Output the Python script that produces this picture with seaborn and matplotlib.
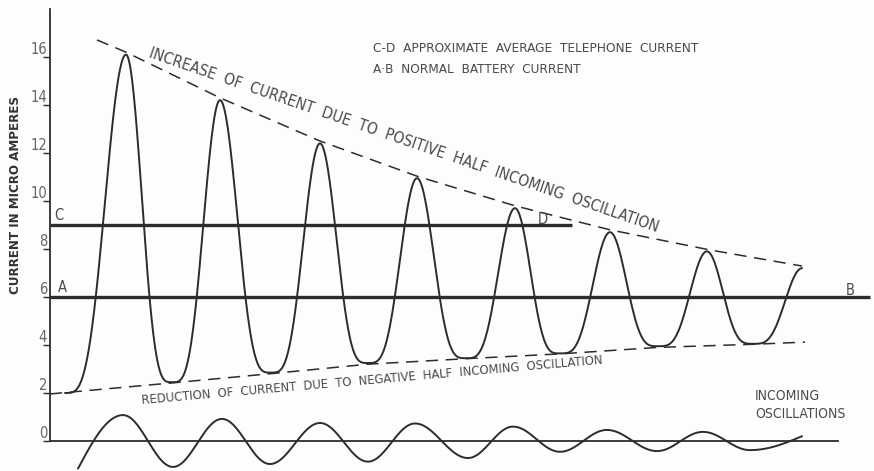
import numpy as np
import pandas as pd
import matplotlib
matplotlib.use("Agg")
import matplotlib.pyplot as plt
import seaborn as sns

# ---- data -------------------------------------------------------------
# Telephone current (micro-amperes): successive extremes, time in cycles
current_t = [0.155, 0.784, 1.258, 1.753, 2.278, 2.784, 3.278, 3.784,
             4.289, 4.794, 5.258, 5.773, 6.268, 6.773, 7.247, 7.753]
current_v = [2.0, 16.1, 2.45, 14.2, 2.85, 12.4, 3.25, 10.95,
             3.45, 9.7, 3.65, 8.7, 3.95, 7.9, 4.05, 7.2]

# Incoming oscillation: successive extremes
incoming_t = [0.289, 0.753, 1.268, 1.773, 2.268, 2.784, 3.278, 3.763,
              4.309, 4.773, 5.258, 5.742, 6.258, 6.732, 7.216, 7.753]
incoming_v = [-1.15, 1.08, -1.08, 0.92, -0.96, 0.75, -0.86, 0.73,
              -0.71, 0.6, -0.45, 0.46, -0.42, 0.38, -0.38, 0.2]

# Envelopes (dashed), drawn over the peaks and under the troughs
upper_env_t = [0.485, 0.784, 1.753, 2.784, 3.794, 4.794, 5.773, 6.804, 7.753]
upper_env_v = [16.71, 16.2, 14.3, 12.5, 11.02, 9.8, 8.8, 7.96, 7.29]
lower_env_t = [0.0, 1.258, 2.289, 3.278, 4.289, 5.258, 6.268, 7.247, 7.784]
lower_env_v = [1.96, 2.42, 2.81, 3.2, 3.43, 3.63, 3.9, 4.03, 4.12]

# Reference levels
level_cd = 9.0     # approximate average telephone current
level_ab = 6.0     # normal battery current
cd_end = 5.38
ab_end = 8.45

y_ticks = [0, 2, 4, 6, 8, 10, 12, 14, 16]


# ---- curve construction ------------------------------------------------
def detector_curve(ts, vs, p=1.85, n=80):
    """Join extremes with rounded troughs and narrow peaks."""
    xs, ys = [], []
    for i in range(len(ts) - 1):
        u = np.linspace(0, 1, n)
        t0, t1, v0, v1 = ts[i], ts[i + 1], vs[i], vs[i + 1]
        if v1 > v0:
            f = ((1 - np.cos(np.pi * u)) / 2) ** p
            y = v0 + (v1 - v0) * f
        else:
            f = ((1 - np.cos(np.pi * (1 - u))) / 2) ** p
            y = v1 + (v0 - v1) * f
        xs.append(t0 + (t1 - t0) * u)
        ys.append(y)
    return np.concatenate(xs), np.concatenate(ys)


def sine_curve(ts, vs, n=60):
    xs, ys = [], []
    last = len(ts) - 2
    for i in range(len(ts) - 1):
        u = np.linspace(0, 1, n)
        t0, t1, v0, v1 = ts[i], ts[i + 1], vs[i], vs[i + 1]
        if i == 0:
            f = np.sin(np.pi * u / 2)
        elif i == last:
            f = 1 - np.cos(np.pi * u / 2)
        else:
            f = (1 - np.cos(np.pi * u)) / 2
        xs.append(t0 + (t1 - t0) * u)
        ys.append(v0 + (v1 - v0) * f)
    return np.concatenate(xs), np.concatenate(ys)


cx, cy = detector_curve(current_t, current_v)
ix, iy = sine_curve(incoming_t, incoming_v)
current_df = pd.DataFrame({"t": cx, "i": cy})
incoming_df = pd.DataFrame({"t": ix, "i": iy})

# ---- figure ------------------------------------------------------------
sns.set_theme(style="white")
plt.rcParams["font.family"] = ["DejaVu Sans"]
plt.rcParams["font.stretch"] = "condensed"

INK = "#2c2c2c"
LETTER = "#4a4a4a"
BG = "#fdfdfd"

fig = plt.figure(figsize=(8.74, 4.71), dpi=100, facecolor=BG)
ax = fig.add_axes([0, 0, 1, 1])
ax.set_facecolor(BG)
ax.set_xlim(-0.515, 8.495)
ax.set_ylim(-1.25, 18.375)

sns.lineplot(data=current_df, x="t", y="i", sort=False, estimator=None,
             color=INK, lw=1.4, ax=ax)
sns.lineplot(data=incoming_df, x="t", y="i", sort=False, estimator=None,
             color=INK, lw=1.4, ax=ax)

ax.plot(upper_env_t, upper_env_v, color=INK, lw=1.1, ls=(0, (8, 5)))
ax.plot(lower_env_t, lower_env_v, color=INK, lw=1.1, ls=(0, (8, 5)))

ax.plot([0, cd_end], [level_cd, level_cd], color=INK, lw=2.4,
        solid_capstyle="butt")
ax.plot([0, ab_end], [level_ab, level_ab], color=INK, lw=2.4,
        solid_capstyle="butt")

# axes: vertical current scale and zero line of the incoming wave
for s in ("top", "right"):
    ax.spines[s].set_visible(False)
ax.spines["left"].set_position(("data", 0))
ax.spines["left"].set_bounds(0, 18.0)
ax.spines["bottom"].set_position(("data", 0))
ax.spines["bottom"].set_bounds(0, 8.12)
for s in ("left", "bottom"):
    ax.spines[s].set_color(INK)
    ax.spines[s].set_linewidth(1.3)

ax.set_xticks([])
ax.set_yticks(y_ticks)
ax.set_yticklabels([str(v) for v in y_ticks])
ax.tick_params(axis="y", direction="out", length=5, width=1, color=INK,
               pad=-3, labelsize=10.5, labelcolor="#666666", left=True)
for lab in ax.get_yticklabels():
    lab.set_va("bottom")
ax.set_xlabel("")
ax.set_ylabel("")
ax.grid(False)

ax.text(-0.36, 10.25, "CURRENT IN MICRO AMPERES", rotation=90,
        ha="center", va="center", fontsize=9.5, fontweight="bold",
        color="#333333")

# line labels
ax.text(0.04, 9.2, "C", fontsize=10.5, color=LETTER, ha="left", va="baseline")
ax.text(0.08, 6.2, "A", fontsize=10.5, color=LETTER, ha="left", va="baseline")
ax.text(5.03, 9.05, "D", fontsize=10.5, color=LETTER, ha="left", va="baseline")
ax.text(8.2, 6.1, "B", fontsize=10.5, color=LETTER, ha="left", va="baseline")

# notes
ax.text(3.33, 16.2, "C-D  APPROXIMATE  AVERAGE  TELEPHONE  CURRENT",
        fontsize=9.7, color=LETTER, ha="left", va="baseline")
ax.text(3.33, 15.33, "A·B  NORMAL  BATTERY  CURRENT",
        fontsize=9.7, color=LETTER, ha="left", va="baseline")

ax.text(1.01, 16.0,
        "INCREASE  OF  CURRENT  DUE  TO  POSITIVE  HALF  INCOMING  OSCILLATION",
        rotation=-19, rotation_mode="anchor", fontsize=11.2, color=LETTER,
        ha="left", va="baseline")
ax.text(0.95, 1.54,
        "REDUCTION  OF  CURRENT  DUE  TO  NEGATIVE  HALF  INCOMING  OSCILLATION",
        rotation=5, rotation_mode="anchor", fontsize=9.3, color=LETTER,
        ha="left", va="baseline")

ax.text(7.27, 1.71, "INCOMING", fontsize=10, color=LETTER,
        ha="left", va="baseline")
ax.text(7.27, 0.96, "OSCILLATIONS", fontsize=10, color=LETTER,
        ha="left", va="baseline")

fig.savefig("out.png", dpi=100, facecolor=fig.get_facecolor())
